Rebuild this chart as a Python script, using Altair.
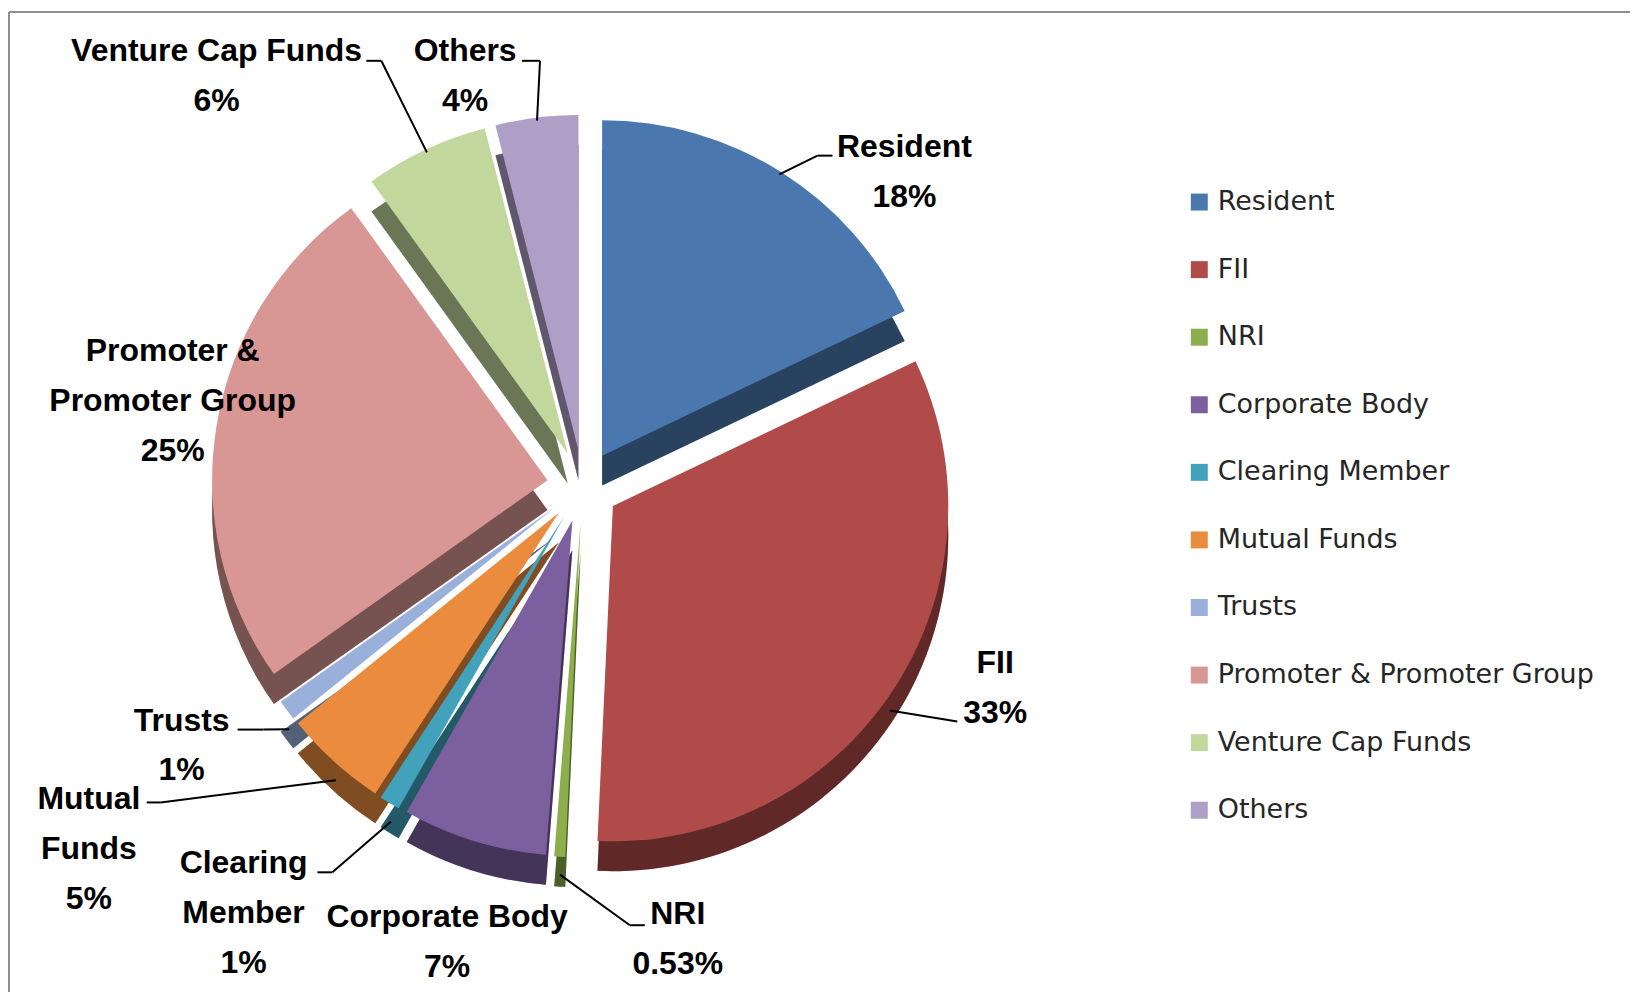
import altair as alt
import pandas as pd

# ---------------- data ----------------
categories = ["Resident", "FII", "NRI", "Corporate Body", "Clearing Member",
              "Mutual Funds", "Trusts", "Promoter & Promoter Group",
              "Venture Cap Funds", "Others"]
shares = [18, 33, 0.53, 7, 1, 5, 1, 25, 6, 4]
label_names = ["Resident", "FII", "NRI", "Corporate Body", "Clearing\nMember",
               "Mutual\nFunds", "Trusts", "Promoter &\nPromoter Group",
               "Venture Cap Funds", "Others"]
colors = ["#4A78AE", "#B04B49", "#8DAE4C", "#7C5F9E", "#42A2BC",
          "#EA8B3E", "#98B0DA", "#D89694", "#C2D79C", "#AF9FC6"]

# ---------------- layout (styling only) ----------------
W, H = 1625, 985
CX, CY, R, EXPLODE, DEPTH = 575, 478, 336, 36, 30
FONT = "Liberation Sans, Arial, sans-serif"
LINE_H = 50

# label block centre, relative to pie centre
label_offset = {
    "Resident": (322, -315), "FII": (413, 202), "NRI": (95, 454),
    "Corporate Body": (-136, 457), "Clearing Member": (-340, 428),
    "Mutual Funds": (-495, 364), "Trusts": (-402, 260),
    "Promoter & Promoter Group": (-411, -85),
    "Venture Cap Funds": (-367, -411), "Others": (-118, -411),
}
# leader elbow relative to label centre, plus horizontal tick length
leader = {
    "Resident": (-87, -16, 15), "FII": (-38, 34, 0), "NRI": (-48, -14, 15),
    "Clearing Member": (89, -41, -15), "Mutual Funds": (72, -47, -14),
    "Trusts": (82, -16, -26), "Venture Cap Funds": (165, -15, -15),
    "Others": (75, -15, -18),
}

rows = []
for i, (c, s, n) in enumerate(zip(categories, shares, label_names)):
    ldx, ldy = label_offset[c]
    ed = leader.get(c)
    text = f"{n}\n{s:g}%"
    n_lines = text.count("\n") + 1
    rows.append({
        "category": c, "share": s, "order": i,
        "label": text,
        "lx": CX + ldx, "ly": CY + ldy - (n_lines - 1) * LINE_H / 2,
        "has_leader": ed is not None,
        "ex": CX + ldx + (ed[0] if ed else 0),
        "ey": CY + ldy + (ed[1] if ed else 0),
        "tick": ed[2] if ed else 0,
    })
df = pd.DataFrame(rows)

base = (
    alt.Chart(df)
    .transform_joinaggregate(total="sum(share)")
    .transform_window(cum="sum(share)", sort=[alt.SortField("order")], frame=[None, 0])
    .transform_calculate(t0="(datum.cum - datum.share) / datum.total * 2 * PI")
    .transform_calculate(t1="datum.cum / datum.total * 2 * PI")
    .transform_calculate(mid="(datum.t0 + datum.t1) / 2")
    .transform_calculate(cx=f"{CX} + {EXPLODE} * sin(datum.mid)")
    .transform_calculate(cy=f"{CY} - {EXPLODE} * cos(datum.mid)")
    .transform_calculate(cyd=f"datum.cy + {DEPTH}")
    .transform_calculate(sx=f"datum.cx + {R - 3} * sin(datum.mid)")
    .transform_calculate(
        sy=f"datum.cy - {R - 3} * cos(datum.mid) + (cos(datum.mid) < 0 ? {DEPTH * 0.7} : 0)")
    .transform_calculate(tx="datum.ex + datum.tick")
)

legend = alt.Legend(
    title=None, orient="none", legendX=1179, legendY=180,
    symbolType="square", symbolSize=289, symbolStrokeWidth=0,
    labelFont="DejaVu Sans", labelFontSize=27, labelColor="#262626",
    labelLimit=700, rowPadding=39.7, labelOffset=5,
)
color_scale = alt.Scale(domain=categories, range=colors)
color = alt.Color("category:N", scale=color_scale, sort=categories, legend=legend)
theta = alt.Theta("t0:Q", scale=None, stack=None)
theta2 = alt.Theta2("t1:Q")
xc = alt.X("cx:Q", scale=None, axis=None)

depth = base.mark_arc(radius=R).encode(
    theta=theta, theta2=theta2, x=xc, y=alt.Y("cyd:Q", scale=None, axis=None),
    color=color,
)
shade = base.mark_arc(radius=R, color="black", opacity=0.45).encode(
    theta=theta, theta2=theta2, x=xc, y=alt.Y("cyd:Q", scale=None, axis=None),
)
top = base.mark_arc(radius=R).encode(
    theta=theta, theta2=theta2, x=xc, y=alt.Y("cy:Q", scale=None, axis=None),
    color=color,
)

lead_base = base.transform_filter("datum.has_leader")
lead1 = lead_base.mark_rule(color="black", strokeWidth=2).encode(
    x=alt.X("sx:Q", scale=None, axis=None), y=alt.Y("sy:Q", scale=None, axis=None),
    x2="ex:Q", y2="ey:Q",
)
lead2 = lead_base.transform_filter("datum.tick != 0").mark_rule(color="black", strokeWidth=2).encode(
    x=alt.X("ex:Q", scale=None, axis=None), y=alt.Y("ey:Q", scale=None, axis=None),
    x2="tx:Q",
)

labels = base.mark_text(
    font=FONT, fontSize=32, fontWeight="bold", color="black",
    lineBreak="\n", lineHeight=LINE_H, align="center", baseline="middle",
).encode(
    x=alt.X("lx:Q", scale=None, axis=None), y=alt.Y("ly:Q", scale=None, axis=None),
    text="label:N",
)

frame_df = pd.DataFrame({"k": [0]})
frame_left = alt.Chart(frame_df).mark_rule(color="#8f8f8f", strokeWidth=2).encode(
    x=alt.value(0), y=alt.value(3), y2=alt.value(H))
frame_top = alt.Chart(frame_df).mark_rule(color="#8f8f8f", strokeWidth=2).encode(
    x=alt.value(0), x2=alt.value(W), y=alt.value(3))

chart = (
    alt.layer(frame_left, frame_top, depth, shade, top, lead1, lead2, labels)
    .properties(width=W, height=H, padding=0,
                autosize=alt.AutoSizeParams(type="fit", contains="padding"),
                background="white")
    .configure_view(stroke=None)
)

chart.save("out.html", embed_options={"renderer": "svg", "actions": False})
